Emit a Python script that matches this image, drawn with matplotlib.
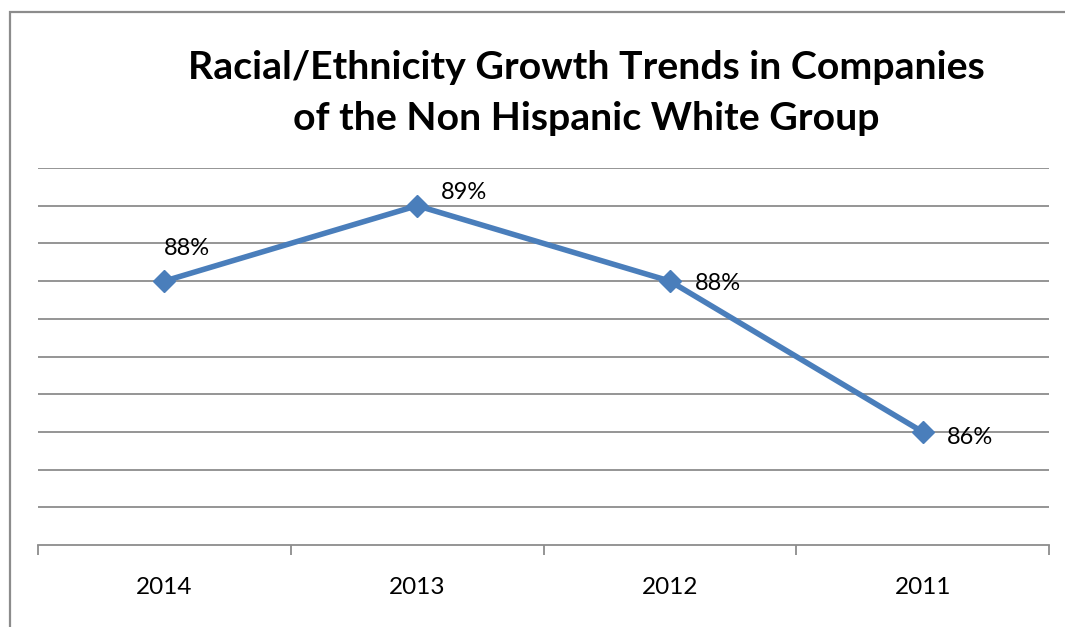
import numpy as np
import matplotlib
matplotlib.use("Agg")
import matplotlib.pyplot as plt
from matplotlib.patches import Rectangle

years = ["2014", "2013", "2012", "2011"]
share = [88, 89, 88, 86]
share_labels = ["88%", "89%", "88%", "86%"]

plt.rcParams['font.family'] = ['Lato', 'DejaVu Sans']

W, H = 1065, 627
fig = plt.figure(figsize=(W / 100, H / 100), dpi=100)

# chart frame (only top and left edges show in the crop)
fig.patches.append(Rectangle((9.5 / W, -0.1), 1.2, 1 - 11.5 / H + 0.1,
                             transform=fig.transFigure, fill=False,
                             edgecolor='#8c8c8c', linewidth=1.6))

ax = fig.add_axes([38 / W, 1 - 545 / H, (1049 - 38) / W, (545 - 168) / H])

x = np.arange(len(years))
ax.plot(x, share, color='#4a7ebb', linewidth=4, marker='D', markersize=11,
        zorder=3, clip_on=False)

# data labels, placed like in Excel (first above, rest to the right)
offsets = [(23, 33), (47, 13), (48, -2), (47, -6)]
for xi, yi, lab, off in zip(x, share, share_labels, offsets):
    ax.annotate(lab, (xi, yi), xytext=(off[0], off[1]), textcoords='offset pixels',
                ha='center', va='center', fontsize=17)

ax.set_xlim(-0.5, len(years) - 0.5)
ax.set_ylim(84.5, 89.5)
ax.set_yticks(np.arange(85, 89.51, 0.5))
ax.set_yticklabels([])
ax.tick_params(axis='y', length=0)
ax.grid(axis='y', color='#8c8c8c', linewidth=1.3)
ax.set_axisbelow(True)

ax.set_xticks(x)
ax.set_xticklabels(years, fontsize=17.5)
ax.set_xticks(np.arange(-0.5, len(years), 1), minor=True)
ax.tick_params(axis='x', which='major', length=0, pad=23)
ax.tick_params(axis='x', which='minor', length=7, width=1.3, color='#8c8c8c',
               direction='out')

for s in ['top', 'right', 'left']:
    ax.spines[s].set_visible(False)
ax.spines['bottom'].set_color('#8c8c8c')
ax.spines['bottom'].set_linewidth(1.3)

fig.text(586 / W, 1 - 79 / H, "Racial/Ethnicity Growth Trends in Companies",
         ha='center', va='baseline', fontsize=28.3, fontweight='bold')
fig.text(586 / W, 1 - 130 / H, "of the Non Hispanic White Group",
         ha='center', va='baseline', fontsize=28.3, fontweight='bold')

fig.savefig("out.png", dpi=100)
